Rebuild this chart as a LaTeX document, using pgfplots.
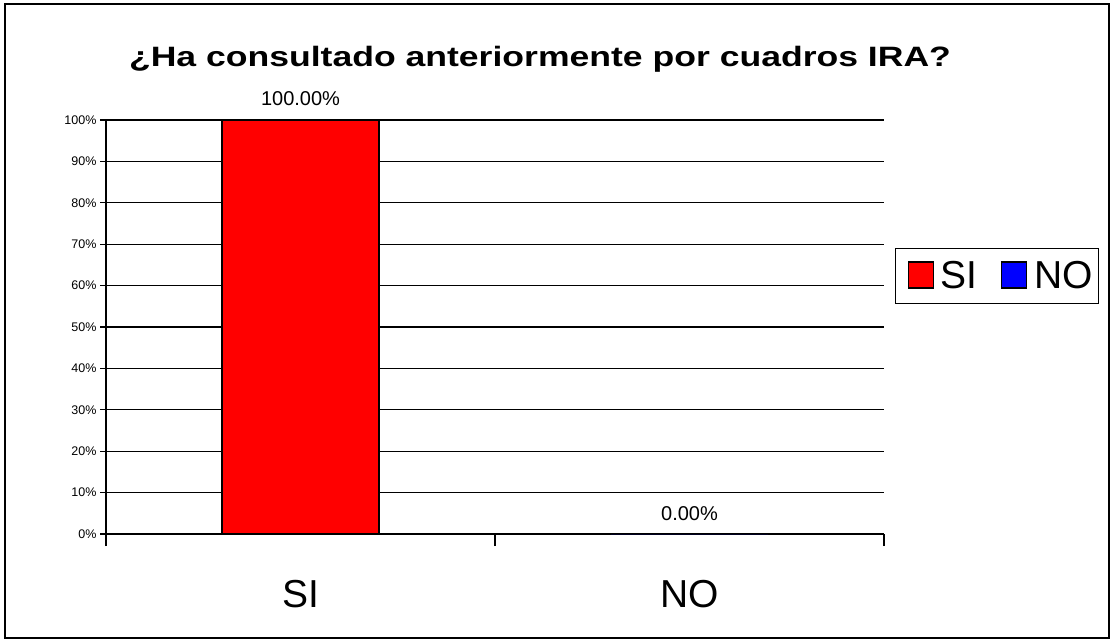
\documentclass[border=0pt]{standalone}
\usepackage{graphicx}
\usepackage{pgfplots}
\pgfplotsset{compat=1.18}
\usepackage{fontspec}
\setmainfont{Liberation Sans}
\begin{document}
\begin{tikzpicture}
\useasboundingbox (0pt,0pt) rectangle (1112pt,641pt);
\draw[line width=1.6pt,black] (5pt,3pt) rectangle (1109pt,637pt);
\node[font=\fontsize{28}{30}\selectfont\bfseries] at (540pt,582pt) {\scalebox{1.27}[1]{¿Ha consultado anteriormente por cuadros IRA?}};
\begin{axis}[
  at={(106pt,107pt)}, anchor=south west,
  scale only axis, width=778pt, height=414pt,
  ybar, bar width=157pt,
  xmin=-0.5, xmax=1.5, ymin=0, ymax=100,
  axis x line*=bottom, axis y line*=left,
  axis line style={black, line width=1.2pt},
  xtick={0,1}, xticklabels={SI,NO},
  major x tick style={draw=none},
  minor xtick={-0.5,0.5,1.5},
  minor tick length=12pt,
  xtick style={black, line width=1.2pt},
  x tick label style={font=\fontsize{39}{40}\selectfont, yshift=-37pt},
  ytick={0,10,...,100},
  yticklabel={\pgfmathprintnumber{\tick}\%},
  y tick label style={font=\fontsize{12.5}{13}\selectfont},
  /pgf/number format/assume math mode=true,
  ytick style={black, line width=1.2pt},
  major tick length=6pt,
  tick align=outside,
  ymajorgrids, grid style={black, line width=1.2pt},
  nodes near coords={\pgfmathprintnumber[fixed,fixed zerofill,precision=2]{\pgfplotspointmeta}\%},
  every node near coord/.append style={font=\fontsize{20}{22}\selectfont, black, yshift=10pt},
  legend style={at={(rel axis cs:1.0141,0.623)}, anchor=west, draw=black, line width=1.2pt,
    font=\fontsize{39}{40}\selectfont, legend columns=2, inner xsep=4pt, inner ysep=11pt,
    /tikz/every odd column/.append style={column sep=5pt},
    /tikz/every even column/.append style={column sep=14pt}},
  legend image code/.code={\path (-8pt,0pt); \draw[#1, draw=black, line width=1.2pt] (0pt,-12pt) rectangle (25pt,14pt);},
  clip=false,
]
\addplot[fill=red, draw=black, line width=1.2pt, bar shift=0pt] coordinates {(0,100)};
\addlegendentry{SI}
\addplot[fill=blue, draw=none, bar shift=0pt] coordinates {(1,0)};
\addlegendentry{NO}
\end{axis}
\end{tikzpicture}
\end{document}
